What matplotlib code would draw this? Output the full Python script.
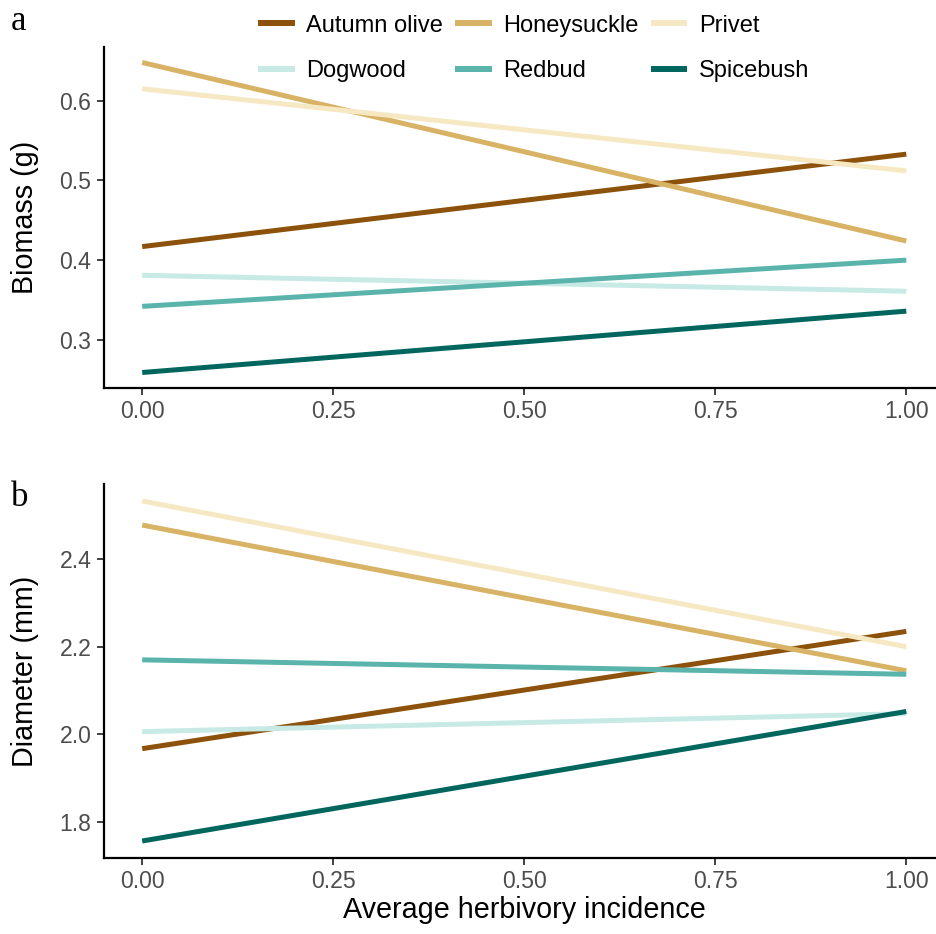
import matplotlib
matplotlib.use("Agg")
import matplotlib.pyplot as plt
from matplotlib.lines import Line2D
from matplotlib.transforms import blended_transform_factory

plt.rcParams['font.family'] = ['Liberation Sans', 'DejaVu Sans']

species = ["Autumn olive", "Honeysuckle", "Privet", "Dogwood", "Redbud", "Spicebush"]
colors = ["#8C510A", "#D8B365", "#F6E8C3", "#C7EAE5", "#5AB4AC", "#01665E"]
herbivory = [0.0, 1.0]
biomass_start = [0.417, 0.648, 0.615, 0.381, 0.342, 0.259]
biomass_end = [0.533, 0.424, 0.512, 0.361, 0.400, 0.336]
diam_start = [1.967, 2.478, 2.533, 2.006, 2.170, 1.756]
diam_end = [2.235, 2.145, 2.200, 2.047, 2.137, 2.052]
xticks = [0.0, 0.25, 0.5, 0.75, 1.0]
xticklabels = ["0.00", "0.25", "0.50", "0.75", "1.00"]

W, H = 936, 934
fig = plt.figure(figsize=(W / 100, H / 100), dpi=100)

def px_axes(left, top, right, bottom):
    return fig.add_axes([left / W, 1 - bottom / H, (right - left) / W, (bottom - top) / H])

axA = px_axes(104, 47, 944.5, 388)
axB = px_axes(104, 484, 944.5, 858)

lw = 3.6
tick_fs = 16.6
title_fs = 20.7
for ax, s, e in [(axA, biomass_start, biomass_end), (axB, diam_start, diam_end)]:
    for i in range(len(species)):
        ax.plot(herbivory, [s[i], e[i]], color=colors[i], lw=lw, solid_capstyle='butt', label=species[i])
    ax.set_xlim(-0.05, 1.05)
    ax.set_xticks(xticks)
    ax.set_xticklabels(xticklabels)
    for sp in ['top', 'right']:
        ax.spines[sp].set_visible(False)
    for sp in ['left', 'bottom']:
        ax.spines[sp].set_linewidth(1.6)
        ax.spines[sp].set_color('black')
    ax.tick_params(axis='both', length=5, width=1.3, color='#333333', labelcolor='#4D4D4D',
                   labelsize=tick_fs)
    ax.tick_params(axis='y', pad=4)
    ax.tick_params(axis='x', pad=3.5)

allA = biomass_start + biomass_end
r = max(allA) - min(allA)
axA.set_ylim(min(allA) - 0.05 * r, max(allA) + 0.05 * r)
axA.set_yticks([0.3, 0.4, 0.5, 0.6])
axA.set_yticklabels(["0.3", "0.4", "0.5", "0.6"])
axA.set_ylabel("Biomass (g)", fontsize=title_fs)

allB = diam_start + diam_end
r = max(allB) - min(allB)
axB.set_ylim(min(allB) - 0.05 * r, max(allB) + 0.05 * r)
axB.set_yticks([1.8, 2.0, 2.2, 2.4])
axB.set_yticklabels(["1.8", "2.0", "2.2", "2.4"])
axB.set_ylabel("Diameter (mm)", fontsize=title_fs)
axB.set_xlabel("Average herbivory incidence", fontsize=title_fs, labelpad=2)

for ax in (axA, axB):
    ax.yaxis.set_label_coords(25 / W, 0.5,
                              transform=blended_transform_factory(fig.transFigure, ax.transAxes))
    ax.yaxis.label.set_va('center')

fig.text(11 / W, 1 - 21 / H, "a", family=['Liberation Serif'], fontsize=25, va='center', ha='left')
fig.text(11 / W, 1 - 497 / H, "b", family=['Liberation Serif'], fontsize=25, va='center', ha='left')

handles = [Line2D([0], [0], color=c, lw=4.3, solid_capstyle='butt') for c in colors]
idx = [0, 3, 1, 4, 2, 5]
leg = fig.legend([handles[i] for i in idx], [species[i] for i in idx], ncol=3,
                 loc='center left', bbox_to_anchor=(258 / W, 1 - 48.5 / H), frameon=False,
                 fontsize=17, handlelength=1.55, handletextpad=0.5, columnspacing=0.5,
                 labelspacing=1.0, borderpad=0, borderaxespad=0)

fig.savefig("out.png", dpi=100)
